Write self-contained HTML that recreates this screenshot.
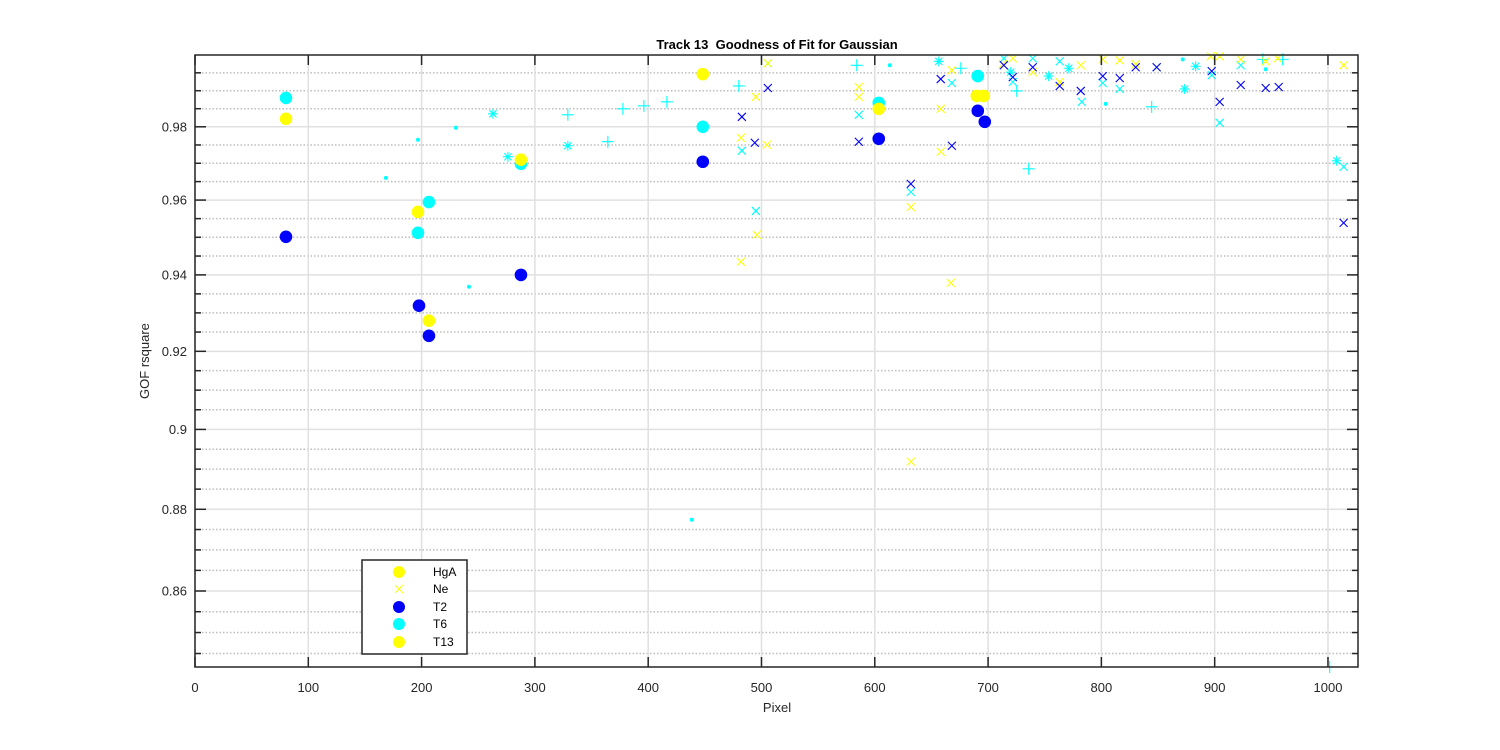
<!DOCTYPE html>
<html><head><meta charset="utf-8"><style>
html,body{margin:0;padding:0;background:#fff;}
svg{display:block;font-family:"Liberation Sans",Arial,sans-serif;}
</style></head><body>
<svg id="chart" width="1500" height="750" viewBox="0 0 1500 750">
<rect x="0" y="0" width="1500" height="750" fill="#fff"/>
<rect x="195" y="55" width="1163" height="612" fill="#fff"/>
<g id="grid"></g>
<g id="marks"></g>
<g id="axes"></g>
<text x="777" y="49" text-anchor="middle" font-size="13" font-weight="bold" fill="#000">Track 13&#160; Goodness of Fit for Gaussian</text>
<text x="777" y="712" text-anchor="middle" font-size="13" fill="#262626">Pixel</text>
<text x="149" y="361" text-anchor="middle" font-size="13" fill="#262626" transform="rotate(-90 149 361)">GOF rsquare</text>
<g>
<rect x="362" y="560" width="105" height="94" fill="#fff" stroke="#262626" stroke-width="1.5"/>
<circle cx="399" cy="572" r="6" fill="#ffff00"/>
<text x="433" y="576" font-size="12" fill="#000">HgA</text>
<g stroke="#ffff00" stroke-width="1"><line x1="395" y1="585" x2="403" y2="593"/><line x1="395" y1="593" x2="403" y2="585"/></g>
<text x="433" y="593" font-size="12" fill="#000">Ne</text>
<circle cx="399" cy="607" r="6" fill="#0000ff"/>
<text x="433" y="611" font-size="12" fill="#000">T2</text>
<circle cx="399" cy="624" r="6" fill="#00ffff"/>
<text x="433" y="628" font-size="12" fill="#000">T6</text>
<circle cx="399" cy="642" r="6" fill="#ffff00"/>
<text x="433" y="646" font-size="12" fill="#000">T13</text>
</g>
</svg>
<script>
// ---- data ----
const xTicks = [0,100,200,300,400,500,600,700,800,900,1000];
const yTicks = [0.86,0.88,0.9,0.92,0.94,0.96,0.98];
const yTickLabels = ["0.86","0.88","0.9","0.92","0.94","0.96","0.98"];
const yMinor = [0.845,0.85,0.855,0.865,0.87,0.875,0.885,0.89,0.895,0.905,0.91,0.915,0.925,0.93,0.935,0.945,0.95,0.955,0.965,0.97,0.975,0.985,0.99,0.995];

const cyanCircleX = [80.3,206.5,196.8,287.7,448.2,603.5,690.9];
const cyanCircleY = [0.988,0.95947,0.9512,0.96986,0.98,0.98662,0.99408];
const blueCircleX = [80.3,197.7,206.5,287.7,448.2,603.5,690.9,697.1];
const blueCircleY = [0.95013,0.93188,0.92403,0.94,0.97041,0.97671,0.98441,0.98138];
const yellowCircleX = [80.3,196.8,206.5,287.7,448.2,603.5,690,696.2];
const yellowCircleY = [0.98221,0.9568,0.92796,0.97096,0.99463,0.98497,0.98856,0.98856];

const neX = [505.6,495.0,481.8,504.7,585.9,585.9,668.0,658.2,658.2,631.8,667.1,495.9,481.8,631.8,721.8,713.0,739.4,763.2,781.8,801.2,816.2,830.3,848.8,896.5,904.4,923.0,945.0,955.6,1013.8];
const neY = [0.99767,0.98828,0.97699,0.97507,0.99104,0.98828,0.99573,0.98497,0.97315,0.95813,0.9379,0.95067,0.94347,0.89187,0.99904,0.99739,0.99518,0.99242,0.99711,0.99877,0.9985,0.99739,0.99656,0.9996,0.9996,0.99877,0.99822,0.99904,0.99711];

const blueXX = [482.7,505.6,494.1,585.9,658.2,668.0,631.8,713.9,721.8,739.4,763.2,781.8,801.2,816.2,830.3,848.8,897.4,904.4,923.0,945.0,956.5,1013.8];
const blueXY = [0.98276,0.99076,0.97562,0.97589,0.99325,0.9748,0.96438,0.99711,0.9938,0.99656,0.99132,0.98994,0.99408,0.99352,0.99656,0.99656,0.99546,0.9869,0.99159,0.99076,0.99104,0.95387];

const cyanXX = [505.6,482.7,495.0,585.9,668.0,631.8,713.9,721.8,739.4,763.2,782.7,801.2,816.2,848.8,897.4,904.4,923.0,1013.8];
const cyanXY = [0.99767,0.97343,0.95707,0.98331,0.99214,0.96219,0.99904,0.99242,0.99904,0.99822,0.9869,0.99214,0.99049,0.99656,0.99435,0.9811,0.99711,0.96904];

const cyanPlusX = [329.1,364.4,377.7,396.2,416.5,480,584.1,675.9,725.3,735.9,844.4,942.4,960,1001.5];
const cyanPlusY = [0.98331,0.97589,0.98497,0.9858,0.9869,0.99132,0.99711,0.99628,0.98994,0.96849,0.98552,0.99877,0.99877,0.8418];

const cyanStarX = [263,276.2,329.1,656.5,720,753.5,771.2,873.5,883.2,1007.7];
const cyanStarY = [0.98359,0.97178,0.9748,0.99822,0.99518,0.99408,0.99628,0.99049,0.99684,0.97068];

const cyanDotX = [168.5,196.8,230.3,241.8,438.5,613.2,803.8,871.8,945];
const cyanDotY = [0.96603,0.97644,0.97973,0.93686,0.8774,0.99711,0.98635,0.99877,0.99601];

// ---- scales ----
const L=195,R=1358,T=55,B=667, XMIN=0, XMAX=1026.5, YMIN=0.8418, YMAX=1.0;
function sx(v){return L+(v-XMIN)/(XMAX-XMIN)*(R-L);}
function sy(v){return B-(Math.log10(v)-Math.log10(YMIN))/(Math.log10(YMAX)-Math.log10(YMIN))*(B-T);}
const NS="http://www.w3.org/2000/svg";
function mk(tag,attrs,parent){const e=document.createElementNS(NS,tag);for(const k in attrs)e.setAttribute(k,attrs[k]);parent.appendChild(e);return e;}
const grid=document.getElementById('grid'), marks=document.getElementById('marks'), axes=document.getElementById('axes');

// grid
yMinor.forEach(v=>{
  const e=mk('line',{x1:L,x2:R,y1:sy(v),y2:sy(v),stroke:'#bdbdbd','stroke-width':1.5,'stroke-dasharray':'1.5,2'},grid);
  
  
});
yTicks.forEach(v=>{
  const e=mk('line',{x1:L,x2:R,y1:sy(v),y2:sy(v),stroke:'#e0e0e0','stroke-width':1.5},grid);
  
  
});
xTicks.forEach(v=>{
  const e=mk('line',{x1:sx(v),x2:sx(v),y1:T,y2:B,stroke:'#e0e0e0','stroke-width':1.5},grid);
  
  
});

// markers
function circles(xs,ys,color,name){xs.forEach((x,i)=>{
  const e=mk('circle',{cx:sx(x),cy:sy(ys[i]),r:6.3,fill:color},marks);
  
  
});}
function crosses(xs,ys,color,name){xs.forEach((x,i)=>{
  const cx=sx(x),cy=sy(ys[i]),d=4;
  const e=mk('path',{d:`M${cx-d} ${cy-d}L${cx+d} ${cy+d}M${cx-d} ${cy+d}L${cx+d} ${cy-d}`,stroke:color,'stroke-width':1.1,fill:'none'},marks);
  
  
});}
function pluses(xs,ys,color,name){xs.forEach((x,i)=>{
  const cx=sx(x),cy=sy(ys[i]),d=6;
  const e=mk('path',{d:`M${cx-d} ${cy}L${cx+d} ${cy}M${cx} ${cy-d}L${cx} ${cy+d}`,stroke:color,'stroke-width':1.1,fill:'none'},marks);
  
  
});}
function stars(xs,ys,color,name){xs.forEach((x,i)=>{
  const cx=sx(x),cy=sy(ys[i]),d=5,q=3.6;
  const e=mk('path',{d:`M${cx-d} ${cy}L${cx+d} ${cy}M${cx} ${cy-d}L${cx} ${cy+d}M${cx-q} ${cy-q}L${cx+q} ${cy+q}M${cx-q} ${cy+q}L${cx+q} ${cy-q}`,stroke:color,'stroke-width':1.1,fill:'none'},marks);
  
  
});}
function dots(xs,ys,color,name){xs.forEach((x,i)=>{
  const e=mk('circle',{cx:sx(x),cy:sy(ys[i]),r:2,fill:color},marks);
  
  
});}
circles(blueCircleX,blueCircleY,'#0000ff','t2-point');
circles(cyanCircleX,cyanCircleY,'#00ffff','t6-point');
circles(yellowCircleX,yellowCircleY,'#ffff00','t13-point');
dots(cyanDotX,cyanDotY,'#00ffff','cyan-dot-point');
pluses(cyanPlusX,cyanPlusY,'#00ffff','cyan-plus-point');
stars(cyanStarX,cyanStarY,'#00ffff','cyan-star-point');
crosses(cyanXX,cyanXY,'#00ffff','cyan-x-point');
crosses(neX,neY,'#ffff00','ne-point');
crosses(blueXX,blueXY,'#0000ff','blue-x-point');

// axes frame
const fr=mk('rect',{x:L,y:T,width:R-L,height:B-T,fill:'none',stroke:'#262626','stroke-width':1.5},axes);


xTicks.forEach((v,i)=>{
  const x=sx(v);
  const t1=mk('line',{x1:x,x2:x,y1:B,y2:B-10,stroke:'#262626','stroke-width':1.5},axes);
  
  
  const t2=mk('line',{x1:x,x2:x,y1:T,y2:T+10,stroke:'#262626','stroke-width':1.5},axes);
  
  
  const tx=mk('text',{x:x,y:692,'text-anchor':'middle','font-size':13,fill:'#262626'},axes);
  tx.textContent=String(v);
  
  
});
yTicks.forEach((v,i)=>{
  const y=sy(v);
  const t1=mk('line',{x1:L,x2:L+11,y1:y,y2:y,stroke:'#262626','stroke-width':1.5},axes);
  
  
  const t2=mk('line',{x1:R,x2:R-11,y1:y,y2:y,stroke:'#262626','stroke-width':1.5},axes);
  
  
  const tx=mk('text',{x:187,y:y+4.5,'text-anchor':'end','font-size':13,fill:'#262626'},axes);
  tx.textContent=yTickLabels[i];
  
  
});
yMinor.forEach(v=>{
  const y=sy(v);
  const t1=mk('line',{x1:L,x2:L+6,y1:y,y2:y,stroke:'#262626','stroke-width':1.5},axes);
  
  
  const t2=mk('line',{x1:R,x2:R-6,y1:y,y2:y,stroke:'#262626','stroke-width':1.5},axes);
  
  
});
</script>
</body></html>
